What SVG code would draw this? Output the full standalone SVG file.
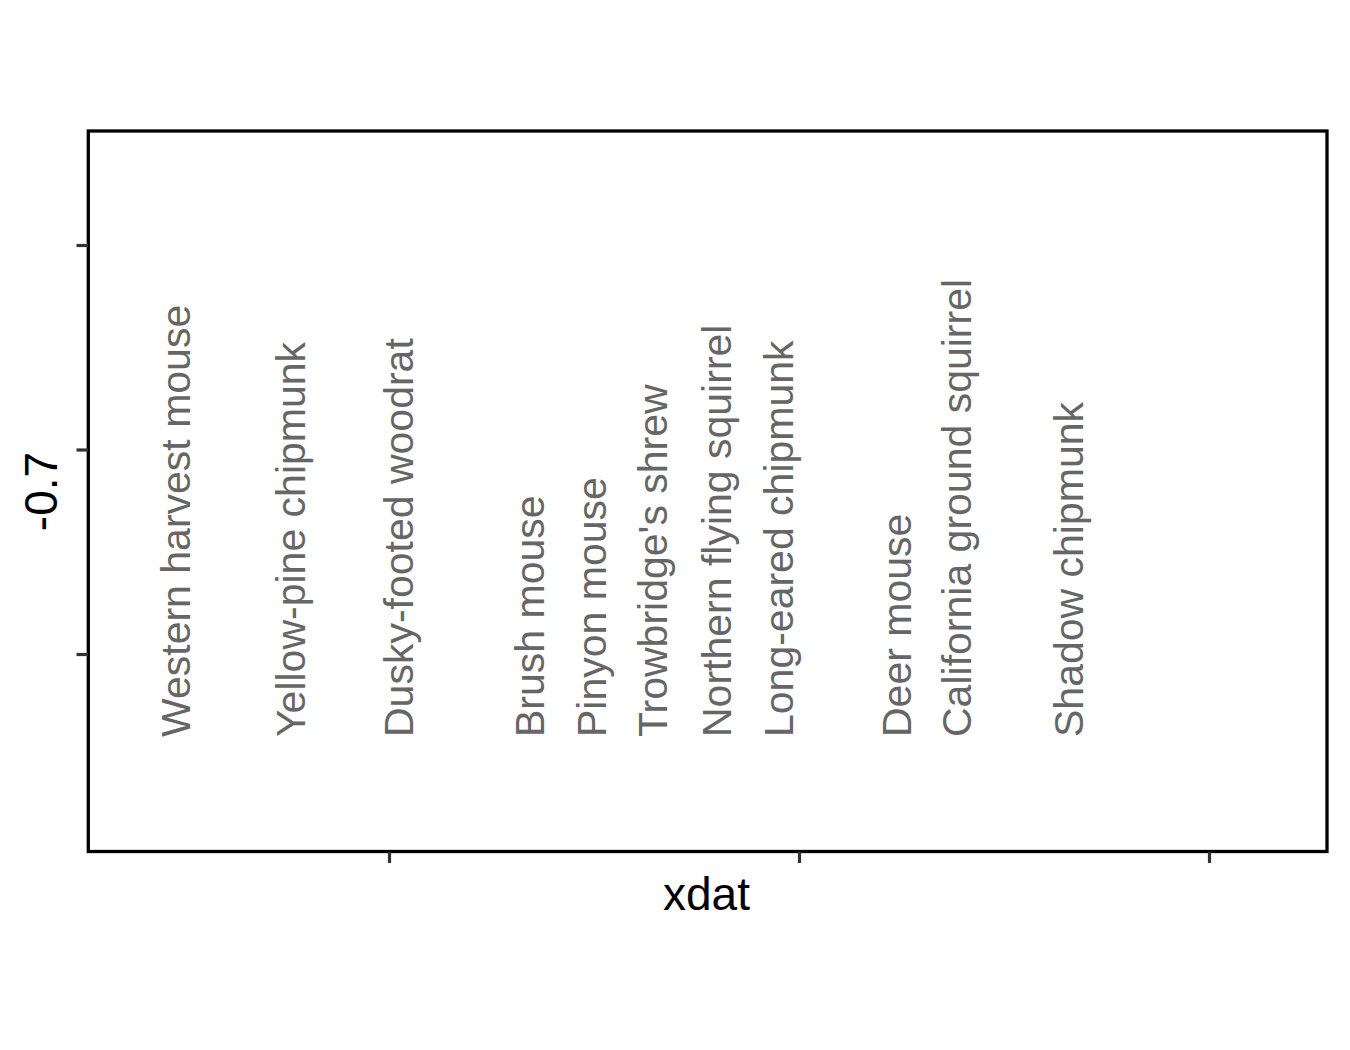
<svg xmlns="http://www.w3.org/2000/svg" width="1350" height="1050" viewBox="0 0 1350 1050">
<style>
.lbl{font-family:"Liberation Sans",Arial,sans-serif;font-size:41px;fill:#666666}
.ttl{font-family:"Liberation Sans",Arial,sans-serif;font-size:46px;fill:#000000}
.tick{stroke:#333333;stroke-width:3.2}
</style>
<rect x="0" y="0" width="1350" height="1050" fill="#ffffff"/>
<g id="panel">
<rect x="88.3" y="131" width="1238.7" height="720.5" fill="#ffffff" stroke="#000000" stroke-width="3.3"/>
</g>
<g id="ticks">
<line class="tick" x1="76.5" y1="245.5" x2="88" y2="245.5"/>
<line class="tick" x1="76.5" y1="450" x2="88" y2="450"/>
<line class="tick" x1="76.5" y1="654.5" x2="88" y2="654.5"/>
<line class="tick" x1="389.5" y1="852" x2="389.5" y2="863"/>
<line class="tick" x1="799.5" y1="852" x2="799.5" y2="863"/>
<line class="tick" x1="1209.5" y1="852" x2="1209.5" y2="863"/>
</g>
<g id="labels">
<text class="lbl" transform="translate(190,737) rotate(-90)">Western harvest mouse</text>
<text class="lbl" transform="translate(305,737) rotate(-90)">Yellow-pine chipmunk</text>
<text class="lbl" transform="translate(413,737) rotate(-90)">Dusky-footed woodrat</text>
<text class="lbl" transform="translate(544,737) rotate(-90)">Brush mouse</text>
<text class="lbl" transform="translate(606,737) rotate(-90)">Pinyon mouse</text>
<text class="lbl" transform="translate(667,737) rotate(-90)">Trowbridge's shrew</text>
<text class="lbl" transform="translate(731,737) rotate(-90)">Northern flying squirrel</text>
<text class="lbl" transform="translate(793,737) rotate(-90)">Long-eared chipmunk</text>
<text class="lbl" transform="translate(911,737) rotate(-90)">Deer mouse</text>
<text class="lbl" transform="translate(971,737) rotate(-90)">California ground squirrel</text>
<text class="lbl" transform="translate(1083,737) rotate(-90)">Shadow chipmunk</text>
</g>
<g id="axis-titles">
<text class="ttl" x="706.5" y="910" text-anchor="middle">xdat</text>
<text class="ttl" transform="translate(57,491.5) rotate(-90)" text-anchor="middle">-0.7</text>
</g>
</svg>
